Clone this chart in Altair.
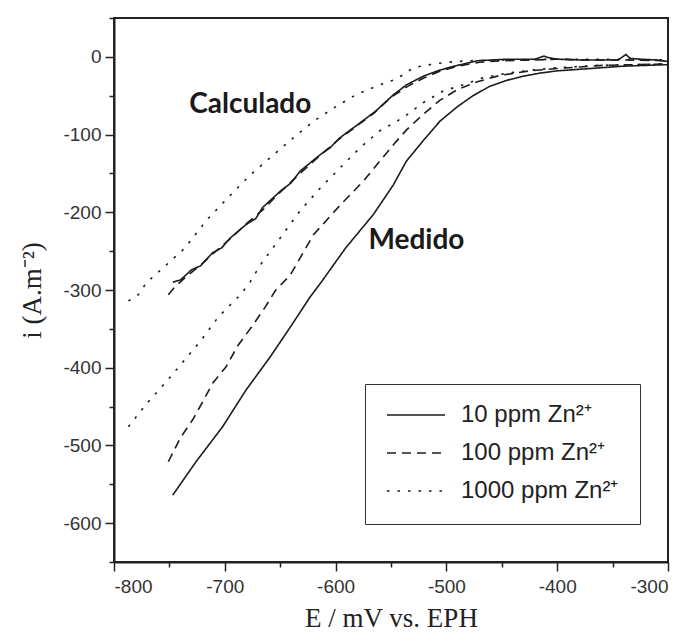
import altair as alt
import pandas as pd

# ---- data ----
conc_labels = ["10 ppm Zn²⁺", "100 ppm Zn²⁺", "1000 ppm Zn²⁺"]

calc10_E = [-747, -740, -730, -722, -711, -703, -695, -681, -672, -666, -650, -640, -632, -614, -605, -596, -578, -564, -548, -536, -521, -506, -490, -472, -445, -420, -412, -408, -400, -380, -360, -345, -338, -334, -325, -310, -300]
calc10_i = [-290, -287, -274, -269, -252, -246, -233, -216, -208, -194, -173, -162, -147, -126, -117, -104, -85, -70, -49, -36, -25, -17, -11, -5, -3, -3, 1, -1, -3, -4, -4, -4, 3, -2, -3, -4, -6]

calc100_E = [-751, -745, -735, -722, -708, -695, -680, -665, -650, -632, -615, -597, -580, -565, -550, -535, -520, -505, -490, -470, -450, -420, -400, -370, -340, -300]
calc100_i = [-306, -296, -283, -268, -250, -234, -214, -196, -174, -150, -128, -106, -88, -72, -52, -38, -27, -18, -12, -7, -5, -4, -3, -4, -4, -5]

calc1000_E = [-787, -778, -771, -753, -736, -717, -695, -677, -656, -638, -620, -602, -582, -560, -548, -539, -530, -515, -500, -480, -450, -400, -350, -300]
calc1000_i = [-314, -306, -291, -268, -246, -211, -178, -152, -126, -104, -83, -66, -49, -36, -30, -23, -14, -10, -7, -5, -4, -3, -3, -4]

med10_E = [-747, -726, -702, -681, -659, -641, -623, -613, -591, -566, -548, -536, -521, -506, -490, -476, -461, -445, -431, -416, -400, -370, -341, -300]
med10_i = [-564, -521, -476, -429, -386, -348, -309, -290, -246, -203, -165, -134, -108, -83, -64, -50, -38, -30, -25, -21, -18, -15, -12, -10]

med100_E = [-751, -740, -729, -720, -711, -699, -688, -676, -664, -654, -641, -620, -596, -575, -560, -546, -536, -521, -506, -490, -472, -452, -425, -400, -359, -300]
med100_i = [-521, -490, -467, -444, -420, -399, -371, -348, -323, -300, -281, -229, -191, -160, -134, -110, -94, -74, -56, -42, -32, -24, -18, -15, -11, -9]

med1000_E = [-787, -771, -754, -738, -721, -706, -688, -679, -668, -650, -632, -614, -596, -578, -560, -546, -536, -521, -503, -485, -467, -445, -422, -400, -364, -300]
med1000_i = [-476, -447, -420, -393, -364, -335, -309, -294, -268, -233, -198, -169, -143, -117, -95, -84, -75, -59, -44, -36, -27, -21, -17, -14, -11, -9]

ann_text = ["Calculado", "Medido"]
ann_E = [-677, -527]
ann_i = [-62, -237]

x_major = [-800, -700, -600, -500, -400, -300]
x_minor = [-750, -650, -550, -450, -350]
y_major = [-600, -500, -400, -300, -200, -100, 0]
y_minor = [-650, -550, -450, -350, -250, -150, -50, 50]

series = [
    ("calc", conc_labels[0], calc10_E, calc10_i),
    ("calc", conc_labels[1], calc100_E, calc100_i),
    ("calc", conc_labels[2], calc1000_E, calc1000_i),
    ("med", conc_labels[0], med10_E, med10_i),
    ("med", conc_labels[1], med100_E, med100_i),
    ("med", conc_labels[2], med1000_E, med1000_i),
]
rows = []
for grp, conc, es, iss in series:
    for k, (e, i) in enumerate(zip(es, iss)):
        rows.append({"serie": grp + conc, "conc": conc, "E": e, "i": i, "k": k})
df = pd.DataFrame(rows)
ann = pd.DataFrame({"text": ann_text, "E": ann_E, "i": ann_i})

label_expr = "'' + datum.value"

xscale = alt.Scale(domain=[-800, -300], nice=False, zero=False)
yscale = alt.Scale(domain=[-650, 50], nice=False, zero=False)

lines = alt.Chart(df).mark_line(color="#1c1c1c", strokeWidth=1.6).encode(
    x=alt.X("E:Q", scale=xscale,
            axis=alt.Axis(title="E / mV vs. EPH", values=x_major, labelExpr=label_expr,
                          labelOverlap=False, tickSize=9, labelPadding=6,
                          titlePadding=9, orient="bottom")),
    y=alt.Y("i:Q", scale=yscale,
            axis=alt.Axis(title="i (A.m⁻²)", values=y_major, labelExpr=label_expr,
                          labelOverlap=False, tickSize=9, labelPadding=4,
                          titlePadding=16, orient="left")),
    strokeDash=alt.StrokeDash(
        "conc:N",
        scale=alt.Scale(domain=conc_labels, range=[[1, 0], [9, 6], [2.5, 8]]),
        legend=alt.Legend(title=None, orient="none", legendX=251, legendY=366,
                          symbolType="stroke", symbolSize=3364, symbolStrokeWidth=1.5,
                          symbolStrokeColor="#1c1c1c", clipHeight=20, rowPadding=14,
                          labelFontSize=24, labelFont="Liberation Sans", labelColor="#222",
                          labelOffset=15, padding=21, strokeColor="#333"),
    ),
    detail="serie:N",
    order="k:Q",
)

texts = alt.Chart(ann).mark_text(font="Lato", fontSize=28, fontWeight="bold",
                                 color="#1a1a1a", baseline="middle", align="center").encode(
    x=alt.X("E:Q", scale=xscale,
            axis=alt.Axis(title=None, values=x_minor, labels=False, tickSize=5,
                          orient="bottom", domain=False)),
    y=alt.Y("i:Q", scale=yscale,
            axis=alt.Axis(title=None, values=y_minor, labels=False, tickSize=5,
                          orient="left", domain=False)),
    text="text:N",
)

chart = alt.layer(lines, texts).resolve_axis(x="independent", y="independent").properties(
    width=554, height=544,
    autosize=alt.AutoSizeParams(type="none"),
    padding={"left": 106, "top": 10, "right": 15, "bottom": 71},
).configure_view(stroke="#222", strokeWidth=2).configure_axis(
    grid=False, domainColor="#222", domainWidth=2, tickColor="#222", tickWidth=1.5,
    labelFont="Liberation Sans", labelFontSize=19, labelColor="#333",
    titleFont="Liberation Serif", titleFontSize=27, titleFontWeight="normal", titleColor="#222",
)

chart.save("out.html", embed_options={"renderer": "svg", "actions": False})
